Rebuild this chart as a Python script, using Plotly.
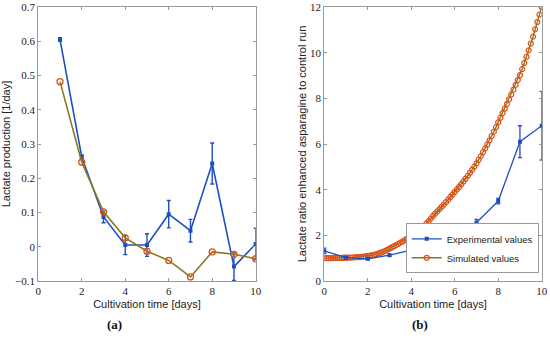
import plotly.graph_objects as go

# ---------- data (a) ----------
days_a = [1, 2, 3, 4, 5, 6, 7, 8, 9, 10]
exp_a = [0.605, 0.262, 0.087, 0.005, 0.005, 0.095, 0.047, 0.243, -0.058, 0.008]
exp_a_err = [0.005, 0.006, 0.017, 0.028, 0.033, 0.04, 0.033, 0.06, 0.04, 0.046]
sim_a = [0.482, 0.247, 0.102, 0.026, -0.013, -0.040, -0.088, -0.015, -0.022, -0.035]

# ---------- data (b) ----------
days_b = [0, 1, 2, 3, 4, 5, 6, 7, 8, 9, 10]
exp_b = [1.32, 1.02, 0.97, 1.13, 1.35, 1.60, 2.05, 2.55, 3.50, 6.10, 6.80]
exp_b_err = [0.12, 0.05, 0.04, 0.05, 0.05, 0.06, 0.10, 0.15, 0.12, 0.70, 1.50]
sim_b_t = [i / 10 for i in range(101)]
sim_b = [1.00, 1.00, 1.00, 1.00, 1.00, 1.01, 1.01, 1.01, 1.01, 1.02, 1.02,
         1.02, 1.03, 1.03, 1.04, 1.05, 1.05, 1.06, 1.07, 1.08, 1.10,
         1.11, 1.13, 1.15, 1.18, 1.21, 1.24, 1.28, 1.32, 1.37, 1.42,
         1.47, 1.52, 1.57, 1.62, 1.68, 1.73, 1.79, 1.85, 1.91, 1.96,
         2.03, 2.10, 2.17, 2.25, 2.33, 2.42, 2.52, 2.62, 2.73, 2.85,
         2.95, 3.05, 3.15, 3.25, 3.35, 3.46, 3.57, 3.68, 3.79, 3.90,
         4.01, 4.12, 4.24, 4.36, 4.48, 4.61, 4.74, 4.87, 5.01, 5.15,
         5.31, 5.47, 5.64, 5.81, 5.98, 6.16, 6.35, 6.54, 6.74, 6.95,
         7.15, 7.35, 7.55, 7.75, 7.96, 8.17, 8.38, 8.59, 8.80, 9.02,
         9.28, 9.55, 9.82, 10.10, 10.40, 10.70, 11.02, 11.34, 11.67, 12.00]

x_ticks = [0, 2, 4, 6, 8, 10]
ya_ticks = [-0.1, 0, 0.1, 0.2, 0.3, 0.4, 0.5, 0.6, 0.7]
ya_labels = ["\u22120.1", "0", "0.1", "0.2", "0.3", "0.4", "0.5", "0.6", "0.7"]
yb_ticks = [0, 2, 4, 6, 8, 10, 12]

BLUE = "#1f4fbf"
ORANGE = "#d95319"
OLIVE = "#8a7a1e"

fig = go.Figure()

fig.add_trace(go.Scatter(
    x=days_a, y=exp_a, mode="lines+markers", xaxis="x", yaxis="y",
    line=dict(color=BLUE, width=1.6), marker=dict(color=BLUE, size=4, symbol="square"),
    error_y=dict(type="data", array=exp_a_err, color=BLUE, thickness=1.4, width=2),
    showlegend=False))
fig.add_trace(go.Scatter(
    x=days_a, y=sim_a, mode="lines+markers", xaxis="x", yaxis="y",
    line=dict(color=OLIVE, width=1.6),
    marker=dict(symbol="circle-open", color=ORANGE, size=6, line=dict(width=1.3)),
    showlegend=False))

fig.add_trace(go.Scatter(
    x=sim_b_t, y=sim_b, mode="lines+markers", xaxis="x2", yaxis="y2",
    line=dict(color=OLIVE, width=1.4),
    marker=dict(symbol="circle-open", color=ORANGE, size=5, line=dict(width=1.2)),
    name="Simulated values", legendrank=2))
fig.add_trace(go.Scatter(
    x=days_b, y=exp_b, mode="lines+markers", xaxis="x2", yaxis="y2",
    line=dict(color=BLUE, width=1.3), marker=dict(color=BLUE, size=4, symbol="square"),
    error_y=dict(type="data", array=exp_b_err, color=BLUE, thickness=1.3, width=2),
    name="Experimental values", legendrank=1))

serif = dict(family="Liberation Serif, DejaVu Serif, serif", size=11, color="#222")
sans = dict(family="Liberation Sans, Arial, sans-serif", size=11, color="#222")

axis_common = dict(showline=True, linecolor="#999", linewidth=1, mirror="ticks",
                   ticks="inside", ticklen=3, tickcolor="#999", showgrid=False,
                   zeroline=False, tickfont=serif, automargin=False)

fig.update_layout(
    width=550, height=344,
    margin=dict(l=0, r=0, t=0, b=0, autoexpand=False),
    paper_bgcolor="white", plot_bgcolor="white",
    xaxis=dict(domain=[0.0696, 0.4649], range=[0, 10], tickvals=x_ticks, anchor="y",
               title=dict(text="Cultivation time [days]", font=sans, standoff=4),
               **axis_common),
    yaxis=dict(domain=[0.1831, 0.9797], range=[-0.1, 0.7], tickvals=ya_ticks,
               ticktext=ya_labels, anchor="x",
               title=dict(text="Lactate production [1/day]", font=sans, standoff=6),
               **axis_common),
    xaxis2=dict(domain=[0.5896, 0.9849], range=[0, 10], tickvals=x_ticks, anchor="y2",
                title=dict(text="Cultivation time [days]", font=sans, standoff=4),
                **axis_common),
    yaxis2=dict(domain=[0.1831, 0.9797], range=[0, 12], tickvals=yb_ticks, anchor="x2",
                title=dict(text="Lactate ratio enhanced asparagine to control run",
                           font=sans, standoff=1),
                **axis_common),
    legend=dict(x=0.9795, y=0.2055, xanchor="right", yanchor="bottom",
                bgcolor="white", bordercolor="#999", borderwidth=1,
                font=dict(family="Liberation Sans, Arial, sans-serif", size=9.5, color="#222"),
                tracegroupgap=0, itemwidth=30),
    annotations=[
        dict(text="<b>(a)</b>", x=0.191, y=0.029, xref="paper", yref="paper",
             showarrow=False, font=dict(family="Liberation Serif, serif", size=13, color="#111")),
        dict(text="<b>(b)</b>", x=0.782, y=0.029, xref="paper", yref="paper",
             showarrow=False, font=dict(family="Liberation Serif, serif", size=13, color="#111")),
    ],
)

fig.write_html("out.html", config={"displayModeBar": False},
               post_script="document.body.style.margin='0';document.body.style.overflow='hidden';")
